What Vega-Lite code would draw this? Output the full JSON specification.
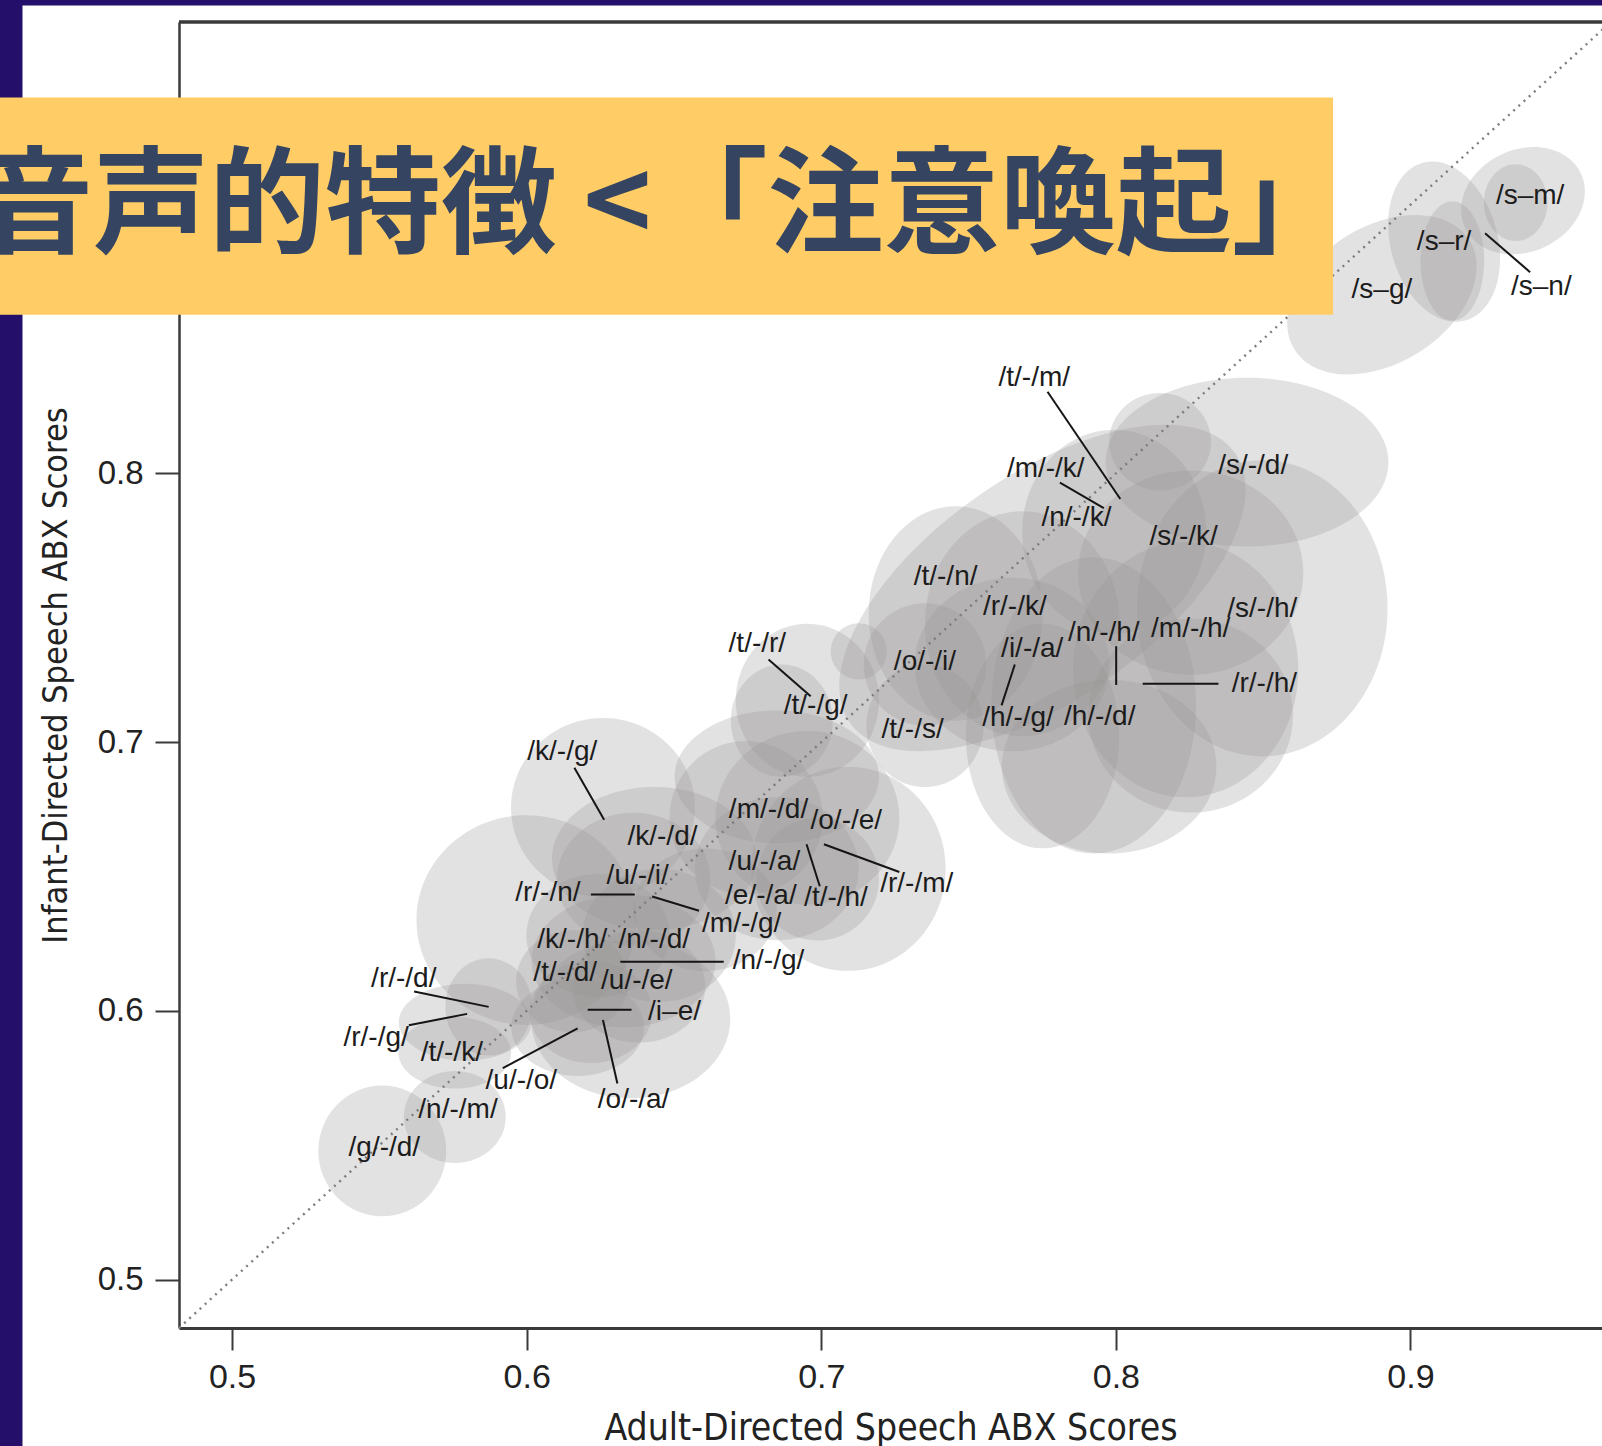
{
  "$schema": "https://vega.github.io/schema/vega-lite/v6.json",
  "width": 1423,
  "height": 1306,
  "autosize": {"type": "none"},
  "padding": {"left": 179, "top": 22, "right": 0, "bottom": 118},
  "background": "#ffffff",
  "config": {"view": {"stroke": null}},
  "datasets": {
    "ellipses": [
      {"x":0.8903,"y":0.8665,"rx":0.0350,"ry":0.0255,"tilt":-32},
      {"x":0.9114,"y":0.8863,"rx":0.0182,"ry":0.0304,"tilt":-15},
      {"x":0.9142,"y":0.8791,"rx":0.0108,"ry":0.0222,"tilt":0},
      {"x":0.9382,"y":0.9015,"rx":0.0217,"ry":0.0190,"tilt":-25},
      {"x":0.9357,"y":0.9008,"rx":0.0108,"ry":0.0143,"tilt":0},
      {"x":0.8445,"y":0.8042,"rx":0.0480,"ry":0.0314,"tilt":0},
      {"x":0.8497,"y":0.7498,"rx":0.0425,"ry":0.0551,"tilt":0},
      {"x":0.7751,"y":0.7574,"rx":0.0798,"ry":0.0418,"tilt":-35},
      {"x":0.8150,"y":0.8118,"rx":0.0173,"ry":0.0181,"tilt":0},
      {"x":0.7994,"y":0.7783,"rx":0.0312,"ry":0.0380,"tilt":0},
      {"x":0.8254,"y":0.7631,"rx":0.0382,"ry":0.0380,"tilt":0},
      {"x":0.7456,"y":0.7479,"rx":0.0295,"ry":0.0399,"tilt":0},
      {"x":0.7682,"y":0.7441,"rx":0.0330,"ry":0.0418,"tilt":0},
      {"x":0.7925,"y":0.7137,"rx":0.0347,"ry":0.0551,"tilt":0},
      {"x":0.8237,"y":0.7270,"rx":0.0382,"ry":0.0475,"tilt":0},
      {"x":0.8254,"y":0.7099,"rx":0.0347,"ry":0.0361,"tilt":0},
      {"x":0.7751,"y":0.7023,"rx":0.0260,"ry":0.0418,"tilt":0},
      {"x":0.7977,"y":0.6909,"rx":0.0364,"ry":0.0323,"tilt":0},
      {"x":0.7647,"y":0.7289,"rx":0.0330,"ry":0.0323,"tilt":0},
      {"x":0.7352,"y":0.7289,"rx":0.0208,"ry":0.0228,"tilt":0},
      {"x":0.7352,"y":0.7061,"rx":0.0199,"ry":0.0228,"tilt":0},
      {"x":0.7127,"y":0.7338,"rx":0.0095,"ry":0.0105,"tilt":0},
      {"x":0.6953,"y":0.7156,"rx":0.0243,"ry":0.0285,"tilt":0},
      {"x":0.6866,"y":0.7080,"rx":0.0173,"ry":0.0209,"tilt":0},
      {"x":0.6849,"y":0.6871,"rx":0.0347,"ry":0.0247,"tilt":0},
      {"x":0.6259,"y":0.6757,"rx":0.0312,"ry":0.0333,"tilt":0},
      {"x":0.5999,"y":0.6338,"rx":0.0373,"ry":0.0390,"tilt":0},
      {"x":0.6433,"y":0.6567,"rx":0.0347,"ry":0.0266,"tilt":0},
      {"x":0.6363,"y":0.6490,"rx":0.0260,"ry":0.0247,"tilt":0},
      {"x":0.6745,"y":0.6719,"rx":0.0260,"ry":0.0285,"tilt":0},
      {"x":0.6953,"y":0.6719,"rx":0.0312,"ry":0.0323,"tilt":0},
      {"x":0.7092,"y":0.6529,"rx":0.0330,"ry":0.0380,"tilt":0},
      {"x":0.6849,"y":0.6529,"rx":0.0278,"ry":0.0266,"tilt":0},
      {"x":0.6988,"y":0.6490,"rx":0.0208,"ry":0.0228,"tilt":0},
      {"x":0.6606,"y":0.6376,"rx":0.0243,"ry":0.0228,"tilt":0},
      {"x":0.6242,"y":0.6281,"rx":0.0243,"ry":0.0228,"tilt":0},
      {"x":0.6450,"y":0.6281,"rx":0.0260,"ry":0.0247,"tilt":0},
      {"x":0.6329,"y":0.6186,"rx":0.0312,"ry":0.0247,"tilt":0},
      {"x":0.6155,"y":0.6110,"rx":0.0191,"ry":0.0190,"tilt":0},
      {"x":0.6381,"y":0.6091,"rx":0.0225,"ry":0.0209,"tilt":0},
      {"x":0.6218,"y":0.5996,"rx":0.0208,"ry":0.0190,"tilt":0},
      {"x":0.6353,"y":0.5970,"rx":0.0338,"ry":0.0295,"tilt":0},
      {"x":0.6173,"y":0.5939,"rx":0.0225,"ry":0.0181,"tilt":0},
      {"x":0.5871,"y":0.6015,"rx":0.0147,"ry":0.0181,"tilt":0},
      {"x":0.5791,"y":0.5958,"rx":0.0225,"ry":0.0143,"tilt":0},
      {"x":0.5756,"y":0.5844,"rx":0.0191,"ry":0.0133,"tilt":0},
      {"x":0.5756,"y":0.5605,"rx":0.0173,"ry":0.0171,"tilt":0},
      {"x":0.5510,"y":0.5479,"rx":0.0217,"ry":0.0243,"tilt":0}
    ],
    "labels": [
      {"x":0.9406,"y":0.9034,"t":"/s–m/"},
      {"x":0.9114,"y":0.8863,"t":"/s–r/"},
      {"x":0.9444,"y":0.8692,"t":"/s–n/"},
      {"x":0.8903,"y":0.8684,"t":"/s–g/"},
      {"x":0.7723,"y":0.8357,"t":"/t/-/m/"},
      {"x":0.7762,"y":0.8015,"t":"/m/-/k/"},
      {"x":0.8466,"y":0.8027,"t":"/s/-/d/"},
      {"x":0.7866,"y":0.7833,"t":"/n/-/k/"},
      {"x":0.8230,"y":0.7764,"t":"/s/-/k/"},
      {"x":0.7422,"y":0.7616,"t":"/t/-/n/"},
      {"x":0.7657,"y":0.7502,"t":"/r/-/k/"},
      {"x":0.8497,"y":0.7494,"t":"/s/-/h/"},
      {"x":0.7959,"y":0.7407,"t":"/n/-/h/"},
      {"x":0.8254,"y":0.7422,"t":"/m/-/h/"},
      {"x":0.6783,"y":0.7365,"t":"/t/-/r/"},
      {"x":0.7352,"y":0.7297,"t":"/o/-/i/"},
      {"x":0.7716,"y":0.7346,"t":"/i/-/a/"},
      {"x":0.8504,"y":0.7217,"t":"/r/-/h/"},
      {"x":0.6981,"y":0.7133,"t":"/t/-/g/"},
      {"x":0.7668,"y":0.7091,"t":"/h/-/g/"},
      {"x":0.7945,"y":0.7095,"t":"/h/-/d/"},
      {"x":0.7310,"y":0.7046,"t":"/t/-/s/"},
      {"x":0.6121,"y":0.6962,"t":"/k/-/g/"},
      {"x":0.6821,"y":0.6749,"t":"/m/-/d/"},
      {"x":0.7085,"y":0.6707,"t":"/o/-/e/"},
      {"x":0.6461,"y":0.6646,"t":"/k/-/d/"},
      {"x":0.6807,"y":0.6555,"t":"/u/-/a/"},
      {"x":0.6377,"y":0.6502,"t":"/u/-/i/"},
      {"x":0.6072,"y":0.6437,"t":"/r/-/n/"},
      {"x":0.6795,"y":0.6426,"t":"/e/-/a/"},
      {"x":0.7050,"y":0.6422,"t":"/t/-/h/"},
      {"x":0.7324,"y":0.6471,"t":"/r/-/m/"},
      {"x":0.6730,"y":0.6322,"t":"/m/-/g/"},
      {"x":0.6155,"y":0.6262,"t":"/k/-/h/"},
      {"x":0.6433,"y":0.6262,"t":"/n/-/d/"},
      {"x":0.6821,"y":0.6186,"t":"/n/-/g/"},
      {"x":0.6131,"y":0.6141,"t":"/t/-/d/"},
      {"x":0.6374,"y":0.6110,"t":"/u/-/e/"},
      {"x":0.5583,"y":0.6118,"t":"/r/-/d/"},
      {"x":0.6502,"y":0.5996,"t":"/i–e/"},
      {"x":0.5489,"y":0.5901,"t":"/r/-/g/"},
      {"x":0.5746,"y":0.5844,"t":"/t/-/k/"},
      {"x":0.5982,"y":0.5738,"t":"/u/-/o/"},
      {"x":0.6363,"y":0.5669,"t":"/o/-/a/"},
      {"x":0.5767,"y":0.5631,"t":"/n/-/m/"},
      {"x":0.5517,"y":0.5490,"t":"/g/-/d/"}
    ],
    "leaders": [
      {"x":0.9253,"y":0.8894,"x2":0.9406,"y2":0.8749},
      {"x":0.7768,"y":0.8304,"x2":0.8015,"y2":0.7905},
      {"x":0.7810,"y":0.7966,"x2":0.7959,"y2":0.7871},
      {"x":0.6821,"y":0.7308,"x2":0.6964,"y2":0.7171},
      {"x":0.7657,"y":0.7289,"x2":0.7612,"y2":0.7137},
      {"x":0.8001,"y":0.7357,"x2":0.8001,"y2":0.7213},
      {"x":0.8091,"y":0.7217,"x2":0.8348,"y2":0.7217},
      {"x":0.6162,"y":0.6905,"x2":0.6263,"y2":0.6711},
      {"x":0.7009,"y":0.6620,"x2":0.7265,"y2":0.6517},
      {"x":0.6950,"y":0.6620,"x2":0.6995,"y2":0.6464},
      {"x":0.6218,"y":0.6433,"x2":0.6367,"y2":0.6433},
      {"x":0.6426,"y":0.6426,"x2":0.6585,"y2":0.6373},
      {"x":0.6318,"y":0.6183,"x2":0.6669,"y2":0.6183},
      {"x":0.5618,"y":0.6072,"x2":0.5871,"y2":0.6015},
      {"x":0.5600,"y":0.5947,"x2":0.5798,"y2":0.5989},
      {"x":0.6207,"y":0.6004,"x2":0.6356,"y2":0.6004},
      {"x":0.5919,"y":0.5787,"x2":0.6173,"y2":0.5935},
      {"x":0.6259,"y":0.5966,"x2":0.6308,"y2":0.5730}
    ],
    "diag": [{"x":0.482,"y":0.482,"x2":0.968,"y2":0.968}],
    "topline": [{"x":0.482,"y":0.968,"x2":0.97,"y2":0.968}],
    "purple": [
      {"x":0.42124,"y":0.97638,"x2":0.42888,"y2":0.43807},
      {"x":0.42124,"y":0.97638,"x2":0.97,"y2":0.97414}
    ],
    "banner": [{"x":0.42124,"y":0.93989,"x2":0.87372,"y2":0.85910}],
    "bannerText": [{"x":0.41343,"y":0.89857,"t":"音声的特徴 <「注意喚起」"}]
  },
  "encoding": {
    "x": {
      "field": "x", "type": "quantitative",
      "scale": {"domain": [0.482, 0.965], "nice": false, "zero": false},
      "axis": {
        "values": [0.5, 0.6, 0.7, 0.8, 0.9], "format": ".1f", "grid": false,
        "tickSize": 22, "tickWidth": 2, "tickColor": "#3a3a3a",
        "domainColor": "#3a3a3a", "domainWidth": 3,
        "labelFont": "Liberation Sans", "labelFontSize": 34, "labelColor": "#222222", "labelPadding": 10,
        "title": "Adult-Directed Speech ABX Scores",
        "titleFont": "DejaVu Sans Condensed, Liberation Sans, sans-serif", "titleFontSize": 37,
        "titleFontWeight": "normal", "titleColor": "#222222", "titlePadding": 16
      }
    },
    "y": {
      "field": "y", "type": "quantitative",
      "scale": {"domain": [0.482, 0.968], "nice": false, "zero": false},
      "axis": {
        "values": [0.5, 0.6, 0.7, 0.8], "format": ".1f", "grid": false,
        "tickSize": 24, "tickWidth": 2, "tickColor": "#3a3a3a",
        "domainColor": "#3a3a3a", "domainWidth": 2.5,
        "labelFont": "Liberation Sans", "labelFontSize": 33, "labelColor": "#222222", "labelPadding": 12,
        "title": "Infant-Directed Speech ABX Scores",
        "titleFont": "DejaVu Sans Condensed, Liberation Sans, sans-serif", "titleFontSize": 34,
        "titleFontWeight": "normal", "titleColor": "#222222", "titlePadding": 24
      }
    }
  },
  "layer": [
    {
      "data": {"name": "topline"},
      "mark": {"type": "rule", "stroke": "#3a3a3a", "strokeWidth": 3.5},
      "encoding": {"x2": {"field": "x2"}, "y2": {"field": "y2"}}
    },
    {
      "data": {"name": "ellipses"},
      "mark": {
        "type": "point", "filled": true, "fill": "#969292", "opacity": 0.27, "strokeWidth": 0,
        "shape": {"expr": "'M1,0C1,'+(0.5523*((scale('y',datum.y-datum.ry)-scale('y',datum.y))/(scale('x',datum.x+datum.rx)-scale('x',datum.x))))+' 0.5523,'+((scale('y',datum.y-datum.ry)-scale('y',datum.y))/(scale('x',datum.x+datum.rx)-scale('x',datum.x)))+' 0,'+((scale('y',datum.y-datum.ry)-scale('y',datum.y))/(scale('x',datum.x+datum.rx)-scale('x',datum.x)))+'C-0.5523,'+((scale('y',datum.y-datum.ry)-scale('y',datum.y))/(scale('x',datum.x+datum.rx)-scale('x',datum.x)))+' -1,'+(0.5523*((scale('y',datum.y-datum.ry)-scale('y',datum.y))/(scale('x',datum.x+datum.rx)-scale('x',datum.x))))+' -1,0C-1,'+(-0.5523*((scale('y',datum.y-datum.ry)-scale('y',datum.y))/(scale('x',datum.x+datum.rx)-scale('x',datum.x))))+' -0.5523,'+(-1*((scale('y',datum.y-datum.ry)-scale('y',datum.y))/(scale('x',datum.x+datum.rx)-scale('x',datum.x))))+' 0,'+(-1*((scale('y',datum.y-datum.ry)-scale('y',datum.y))/(scale('x',datum.x+datum.rx)-scale('x',datum.x))))+'C0.5523,'+(-1*((scale('y',datum.y-datum.ry)-scale('y',datum.y))/(scale('x',datum.x+datum.rx)-scale('x',datum.x))))+' 1,'+(-0.5523*((scale('y',datum.y-datum.ry)-scale('y',datum.y))/(scale('x',datum.x+datum.rx)-scale('x',datum.x))))+' 1,0Z'"},
        "size": {"expr": "pow(2*(scale('x',datum.x+datum.rx)-scale('x',datum.x)),2)"}
      },
      "encoding": {"angle": {"field": "tilt", "type": "quantitative", "scale": null}}
    },
    {
      "data": {"name": "diag"},
      "mark": {"type": "rule", "stroke": "#7c7c7c", "strokeWidth": 2.4, "strokeDash": [2, 5]},
      "encoding": {"x2": {"field": "x2"}, "y2": {"field": "y2"}}
    },
    {
      "data": {"name": "leaders"},
      "mark": {"type": "rule", "stroke": "#151515", "strokeWidth": 2},
      "encoding": {"x2": {"field": "x2"}, "y2": {"field": "y2"}}
    },
    {
      "data": {"name": "labels"},
      "mark": {"type": "text", "font": "Liberation Sans", "fontSize": 28, "fill": "#1c1c1c", "align": "center", "baseline": "middle"},
      "encoding": {"text": {"field": "t"}}
    },
    {
      "data": {"name": "purple"},
      "mark": {"type": "rect", "fill": "#24106a"},
      "encoding": {"x2": {"field": "x2"}, "y2": {"field": "y2"}}
    },
    {
      "data": {"name": "banner"},
      "mark": {"type": "rect", "fill": "#ffcc66"},
      "encoding": {"x2": {"field": "x2"}, "y2": {"field": "y2"}}
    },
    {
      "data": {"name": "bannerText"},
      "mark": {"type": "text", "font": "Noto Sans CJK JP", "fontWeight": "bold", "fontSize": 116, "fill": "#344461", "align": "left", "baseline": "middle"},
      "encoding": {"text": {"field": "t"}}
    }
  ]
}
